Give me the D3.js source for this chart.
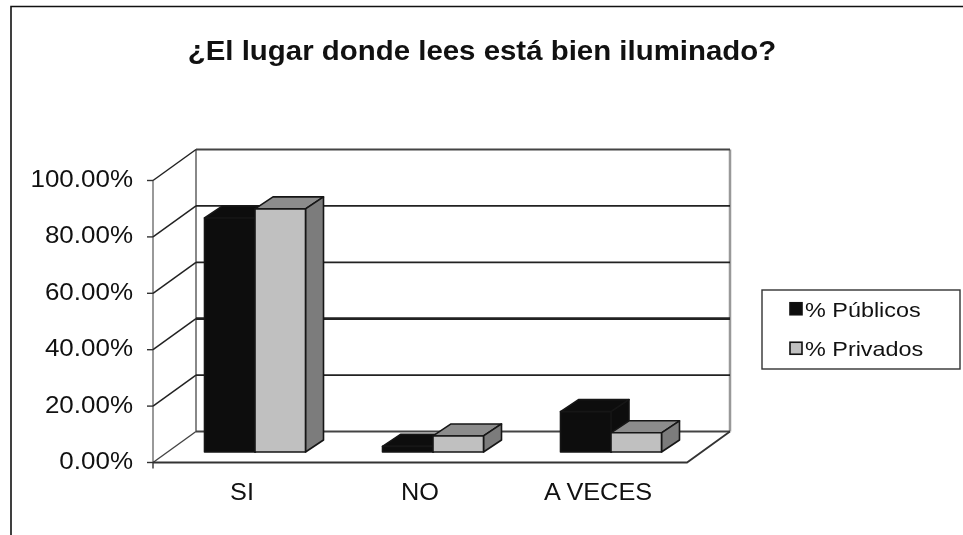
<!DOCTYPE html>
<html><head><meta charset="utf-8">
<script src="https://cdnjs.cloudflare.com/ajax/libs/d3/7.8.5/d3.min.js"></script>
<style>html,body{margin:0;padding:0;background:#fff}svg{display:block;filter:blur(0.45px)}text{font-family:"Liberation Sans",Arial,sans-serif;fill:#111}</style>
</head><body><svg id="c" width="963" height="535"></svg>
<script>
const titleText = "¿El lugar donde lees está bien iluminado?";
const categories = ["SI", "NO", "A VECES"];
const seriesNames = ["% Públicos", "% Privados"];
const publicos = [83, 2, 14.3];
const privados = [86.2, 5.7, 6.8];
const yTicks = [0, 20, 40, 60, 80, 100];

const svg = d3.select("#c");
const x = d3.scaleBand().domain(categories).range([153, 687]);
const y = d3.scaleLinear().domain([0, 100]).range([462.5, 180.5]);
const series = d3.scaleBand().domain(seriesNames).range([-50.5, 50.5]);
const depth = {dx: 43, dy: -31};
const barOff = {dx: 13, dy: -10.5};
const barDepth = {dx: 18, dy: -12};
const STROKE = "#161616", GRID = "#222";
const path = pts => d3.line()(pts);

// chart frame (left and top only)
svg.append("path").attr("d", path([[11, 535], [11, 6.5], [963, 6.5]])).attr("fill", "none").attr("stroke", "#111").attr("stroke-width", 1.6);

// walls
const [x0, x1] = x.range();
svg.append("path").attr("d", path([[x0 + depth.dx, y(0) + depth.dy], [x0 + depth.dx, y(100) + depth.dy]])).attr("stroke", "#888").attr("stroke-width", 2);
svg.append("path").attr("d", path([[x1 + depth.dx, y(0) + depth.dy], [x1 + depth.dx, y(100) + depth.dy]])).attr("stroke", "#999").attr("stroke-width", 2.5);
svg.append("path").attr("d", path([[x0, y(0)], [x0, y(100)]])).attr("stroke", "#777").attr("stroke-width", 1.5);

// gridlines: back wall + side wall
yTicks.forEach(t => {
  const w = t === 40 ? 2.8 : 1.8;
  const col = t === 0 || t === 100 ? "#444" : GRID;
  svg.append("path").attr("d", path([[x0 + depth.dx, y(t) + depth.dy], [x1 + depth.dx, y(t) + depth.dy]])).attr("stroke", col).attr("stroke-width", w);
  if (t > 0) svg.append("path").attr("d", path([[x0, y(t)], [x0 + depth.dx, y(t) + depth.dy]])).attr("stroke", "#222").attr("stroke-width", 1.5).attr("fill", "none");
  svg.append("path").attr("d", path([[x0 - 6, y(t)], [x0, y(t)]])).attr("stroke", "#333").attr("stroke-width", 1.4);
  const label = t.toFixed(2) + "%";
  svg.append("text").attr("transform", `translate(133,${y(t) + 6.5}) scale(1.13,1)`).attr("text-anchor", "end").attr("font-size", 23).text(label);
});

// floor
svg.append("path").attr("d", path([[x0, y(0)], [x0 + depth.dx, y(0) + depth.dy]])).attr("stroke", "#444").attr("stroke-width", 1.4);
svg.append("path").attr("d", path([[x0, y(0)], [x1, y(0)], [x1 + depth.dx, y(0) + depth.dy]])).attr("fill", "none").attr("stroke", "#333").attr("stroke-width", 1.8);
svg.append("path").attr("d", path([[x0, y(0) + 6], [x0, y(0)]])).attr("stroke", "#333").attr("stroke-width", 1.4);

// bars
const rows = [];
categories.forEach((c, i) => {
  rows.push({c, s: seriesNames[0], v: publicos[i], front: "#0d0d0d", top: "#0d0d0d", side: "#0d0d0d"});
  rows.push({c, s: seriesNames[1], v: privados[i], front: "#c0c0c0", top: "#8c8c8c", side: "#7c7c7c"});
});
const bars = svg.append("g").selectAll("g").data(rows).join("g")
  .attr("stroke", STROKE).attr("stroke-width", 1.6).attr("stroke-linejoin", "round");
const geom = d => {
  const l = x(d.c) + x.bandwidth() / 2 + series(d.s) + barOff.dx;
  const r = l + series.bandwidth();
  const b = y(0) + barOff.dy, t = y(d.v) + barOff.dy;
  return {l, r, b, t};
};
bars.append("path").attr("fill", d => d.top).attr("d", d => { const g = geom(d);
  return path([[g.l, g.t], [g.l + barDepth.dx, g.t + barDepth.dy], [g.r + barDepth.dx, g.t + barDepth.dy], [g.r, g.t]]) + "Z"; });
bars.append("path").attr("fill", d => d.side).attr("d", d => { const g = geom(d);
  return path([[g.r, g.t], [g.r + barDepth.dx, g.t + barDepth.dy], [g.r + barDepth.dx, g.b + barDepth.dy], [g.r, g.b]]) + "Z"; });
bars.append("path").attr("fill", d => d.front).attr("d", d => { const g = geom(d);
  return path([[g.l, g.t], [g.r, g.t], [g.r, g.b], [g.l, g.b]]) + "Z"; });

// category labels
categories.forEach(c => {
  svg.append("text").attr("transform", `translate(${x(c) + x.bandwidth() / 2},${500}) scale(1.1,1)`).attr("text-anchor", "middle").attr("font-size", 23).text(c);
});

// title
svg.append("text").attr("transform", "translate(482,60) scale(1.09,1)").attr("text-anchor", "middle").attr("font-size", 27).attr("font-weight", "bold").text(titleText);

// legend
svg.append("rect").attr("x", 762).attr("y", 290).attr("width", 198).attr("height", 79).attr("fill", "#fff").attr("stroke", "#333").attr("stroke-width", 1.4);
const legendY = d3.scaleBand().domain(seriesNames).range([290, 369]);
const swatch = {[seriesNames[0]]: "#0d0d0d", [seriesNames[1]]: "#c0c0c0"};
seriesNames.forEach(s => {
  const cy = legendY(s) + legendY.bandwidth() / 2;
  svg.append("rect").attr("x", 790).attr("y", cy - 7).attr("width", 12).attr("height", 12).attr("fill", swatch[s]).attr("stroke", "#111").attr("stroke-width", 1.6);
  svg.append("text").attr("transform", `translate(805,${cy + 7}) scale(1.17,1)`).attr("font-size", 20).text(s);
});
</script></body></html>
